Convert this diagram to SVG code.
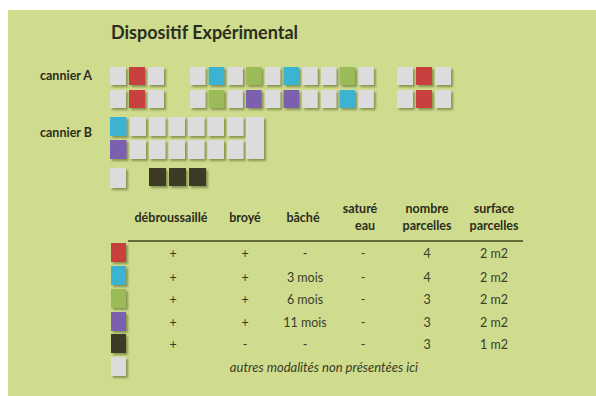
<svg xmlns="http://www.w3.org/2000/svg" width="596" height="396" viewBox="0 0 596 396">
<defs>
<filter id="sh" x="-20%" y="-20%" width="150%" height="150%">
<feDropShadow dx="2" dy="2" stdDeviation="0.8" flood-color="#6f7c3c" flood-opacity="0.75"/>
</filter>
</defs>
<style>
.g{fill:#dcdcdc}
.r{fill:#c8403c}
.b{fill:#3db3d2}
.v{fill:#9bbb59}
.p{fill:#7c5fae}
.d{fill:#3c3b26}
.sq rect{filter:url(#sh)}
text{font-family:Lato,"Open Sans","Liberation Sans",sans-serif;fill:#2b2e1e}
.t{font-size:18px;font-weight:bold}
.l{font-size:12.5px;font-weight:bold}
.h{font-size:12.5px;font-weight:bold;text-anchor:middle}
.c{font-size:12.5px;text-anchor:middle;fill:#3a3d2a}
.i{font-size:13px;font-style:italic;text-anchor:middle;fill:#3a3d2a}
</style>
<rect x="8" y="10" width="588" height="386" fill="#cfdb8d"/>
<g id="title"><text class="t" x="111" y="39">Dispositif Expérimental</text></g>
<g id="cannier-A" class="sq">
<text class="l" x="40" y="80" style="filter:none">cannier A</text>
<rect class="g" x="110" y="67" width="16" height="18"/>
<rect class="r" x="129" y="67" width="16" height="18"/>
<rect class="g" x="148" y="67" width="16" height="18"/>
<rect class="g" x="110" y="90" width="16" height="18"/>
<rect class="r" x="129" y="90" width="16" height="18"/>
<rect class="g" x="148" y="90" width="16" height="18"/>
<rect class="g" x="190" y="67" width="15.5" height="18"/>
<rect class="b" x="208.7" y="67" width="15.5" height="18"/>
<rect class="g" x="227.4" y="67" width="15.5" height="18"/>
<rect class="v" x="246.1" y="67" width="15.5" height="18"/>
<rect class="g" x="264.8" y="67" width="15.5" height="18"/>
<rect class="b" x="283.5" y="67" width="15.5" height="18"/>
<rect class="g" x="302.2" y="67" width="15.5" height="18"/>
<rect class="g" x="320.9" y="67" width="15.5" height="18"/>
<rect class="v" x="339.6" y="67" width="15.5" height="18"/>
<rect class="g" x="358.3" y="67" width="15.5" height="18"/>
<rect class="g" x="190" y="90" width="15.5" height="18"/>
<rect class="v" x="208.7" y="90" width="15.5" height="18"/>
<rect class="g" x="227.4" y="90" width="15.5" height="18"/>
<rect class="p" x="246.1" y="90" width="15.5" height="18"/>
<rect class="g" x="264.8" y="90" width="15.5" height="18"/>
<rect class="p" x="283.5" y="90" width="15.5" height="18"/>
<rect class="g" x="302.2" y="90" width="15.5" height="18"/>
<rect class="g" x="320.9" y="90" width="15.5" height="18"/>
<rect class="b" x="339.6" y="90" width="15.5" height="18"/>
<rect class="g" x="358.3" y="90" width="15.5" height="18"/>
<rect class="g" x="397" y="67" width="16" height="18"/>
<rect class="r" x="416" y="67" width="16" height="18"/>
<rect class="g" x="435" y="67" width="16" height="18"/>
<rect class="g" x="397" y="90" width="16" height="18"/>
<rect class="r" x="416" y="90" width="16" height="18"/>
<rect class="g" x="435" y="90" width="16" height="18"/>
</g>
<g id="cannier-B" class="sq">
<text class="l" x="40" y="137">cannier B</text>
<rect class="b" x="110" y="117" width="16.5" height="19"/>
<rect class="g" x="129.5" y="117" width="16.5" height="19"/>
<rect class="g" x="149" y="117" width="16.5" height="19"/>
<rect class="g" x="168.5" y="117" width="16.5" height="19"/>
<rect class="g" x="188" y="117" width="16.5" height="19"/>
<rect class="g" x="207.5" y="117" width="16.5" height="19"/>
<rect class="g" x="227" y="117" width="16.5" height="19"/>
<rect class="p" x="110" y="140" width="16.5" height="19"/>
<rect class="g" x="129.5" y="140" width="16.5" height="19"/>
<rect class="g" x="149" y="140" width="16.5" height="19"/>
<rect class="g" x="168.5" y="140" width="16.5" height="19"/>
<rect class="g" x="188" y="140" width="16.5" height="19"/>
<rect class="g" x="207.5" y="140" width="16.5" height="19"/>
<rect class="g" x="227" y="140" width="16.5" height="19"/>
<rect class="g" x="246" y="117" width="18" height="42"/>
<rect class="g" x="110" y="168" width="16" height="20"/>
<rect class="d" x="149" y="168" width="17" height="18"/>
<rect class="d" x="169" y="168" width="17" height="18"/>
<rect class="d" x="189" y="168" width="17" height="18"/>
</g>
<g id="table">
<text class="h" x="171" y="222">débroussaillé</text>
<text class="h" x="245" y="222">broyé</text>
<text class="h" x="303" y="222">bâché</text>
<text class="h" x="360" y="213">saturé</text>
<text class="h" x="365" y="230">eau</text>
<text class="h" x="427" y="213">nombre</text>
<text class="h" x="427" y="230">parcelles</text>
<text class="h" x="494" y="213">surface</text>
<text class="h" x="494" y="230">parcelles</text>
<line x1="128" y1="241" x2="523" y2="241" stroke="#5f6e34" stroke-width="2"/>
<g class="sq">
<rect class="r" x="111" y="243" width="15" height="19"/>
<rect class="b" x="111" y="266" width="15" height="19"/>
<rect class="v" x="111" y="289" width="15" height="19"/>
<rect class="p" x="111" y="312" width="15" height="19"/>
<rect class="d" x="111" y="334" width="15" height="19"/>
<rect class="g" x="111" y="357" width="15" height="19"/>
</g>
<text class="c" x="173" y="258">+</text><text class="c" x="245" y="258">+</text><text class="c" x="305" y="258">-</text><text class="c" x="363" y="258">-</text><text class="c" x="427" y="258">4</text><text class="c" x="494" y="258">2 m2</text>
<text class="c" x="173" y="282">+</text><text class="c" x="245" y="282">+</text><text class="c" x="305" y="282">3 mois</text><text class="c" x="363" y="282">-</text><text class="c" x="427" y="282">4</text><text class="c" x="494" y="282">2 m2</text>
<text class="c" x="173" y="304">+</text><text class="c" x="245" y="304">+</text><text class="c" x="305" y="304">6 mois</text><text class="c" x="363" y="304">-</text><text class="c" x="427" y="304">3</text><text class="c" x="494" y="304">2 m2</text>
<text class="c" x="173" y="327">+</text><text class="c" x="245" y="327">+</text><text class="c" x="305" y="327">11 mois</text><text class="c" x="363" y="327">-</text><text class="c" x="427" y="327">3</text><text class="c" x="494" y="327">2 m2</text>
<text class="c" x="173" y="349">+</text><text class="c" x="245" y="349">-</text><text class="c" x="305" y="349">-</text><text class="c" x="363" y="349">-</text><text class="c" x="427" y="349">3</text><text class="c" x="494" y="349">1 m2</text>
<text class="i" x="324" y="372">autres modalités non présentées ici</text>
</g>
</svg>
